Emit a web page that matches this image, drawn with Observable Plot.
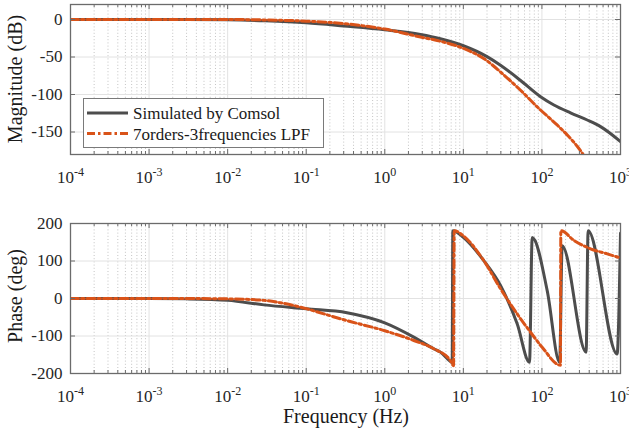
<!DOCTYPE html>
<html><head><meta charset="utf-8">
<script src="https://cdn.jsdelivr.net/npm/d3@7"></script>
<script src="https://cdn.jsdelivr.net/npm/@observablehq/plot@0.6"></script>
<style>
body{margin:0;background:#fff;}
#fig{position:relative;width:629px;height:434px;font-family:'Liberation Serif','Times New Roman',serif;}
#fig svg{display:block;}
#legend{position:absolute;left:83px;top:98px;}
</style></head><body><div id="fig"></div>
<script>
// ---- tick values / labels ----
const xTicks = [1e-4, 1e-3, 1e-2, 1e-1, 1, 10, 100, 1000];
const magTicks = [-150, -100, -50, 0];
const phaseTicks = [-200, -100, 0, 100, 200];
const seriesNames = ["Simulated by Comsol", "7orders-3frequencies LPF"];
const seriesColors = ["#4d4d4d", "#D95319"];
const xLabel = "Frequency (Hz)";
const magLabel = "Magnitude (dB)";
const phaseLabel = "Phase (deg)";

// ---- magnitude (dB) ----
const magFreqComsol = [1e-4, 1e-3, 3e-3, 0.01, 0.03, 0.1, 0.3, 1, 2.85, 5.1, 10, 20, 29.7, 53, 96, 142, 231, 377, 557, 1000];
const magComsol     = [0, 0, 0, -0.4, -1.8, -4.5, -8.7, -13.8, -20, -25.6, -35, -49.5, -61, -81, -103, -114, -124.5, -134, -142.8, -162.7];
const magFreqLPF = [1e-4, 1e-3, 0.01, 0.03, 0.1, 0.3, 1, 2.85, 5.1, 10, 20, 29.7, 53, 96, 156, 209, 281, 335];
const magLPF     = [0, 0, 0, -0.6, -2.2, -5.5, -12.8, -23.4, -29, -38.5, -55, -70, -94, -120.7, -140.6, -153.8, -169, -180];

// ---- phase (deg) ----
const phFreqComsol = [1e-4, 1e-3, 3e-3, 0.01, 0.029, 0.1, 0.33, 1, 2.34, 4.2, 5.1, 6.86, 7.2, 7.35, 10, 18.2, 29.7, 48.4, 69.5, 75.2, 116.7, 168, 181, 365, 387, 905, 1000];
const phComsol     = [0, 0, -1, -5, -17, -27.6, -38, -65, -103, -134, -143, -168, -171, 181, 163, 101, 35, -67.6, -170, 163, 21, -170, 141, -143, 181, -148, 174];
const phFreqLPF = [1e-4, 1e-3, 3e-3, 0.01, 0.029, 0.047, 0.1, 0.125, 0.33, 1, 2.34, 4.2, 6.86, 7.5, 7.65, 10, 18.2, 29.7, 48.4, 71.6, 100.7, 172, 174, 255, 415, 678, 1000];
const phLPF     = [0, 0, 0, -1, -5, -11.5, -27, -33, -59, -86, -112, -134, -166, -179, 181, 167, 101, 26, -41, -90, -130, -178, 181, 155, 132.5, 119, 108];

const toRows = (fs, vs, s) => fs.map((f, i) => ({f, v: vs[i], s}));
const magData = [toRows(magFreqComsol, magComsol, 0), toRows(magFreqLPF, magLPF, 1)];
const phData = [toRows(phFreqComsol, phComsol, 0), toRows(phFreqLPF, phLPF, 1)];

const minorTicks = [];
for (let e = -4; e < 3; e++) for (let m = 2; m <= 9; m++) minorTicks.push(m * Math.pow(10, e));

const FONT = "'Liberation Serif','Times New Roman',serif";
const frameColor = "#6b6b6b";

function panel({height, marginTop, marginBottom, domain, yTicks, data}) {
  const ph = height - marginTop - marginBottom;
  const pw = 629 - 70 - 9;
  const svg = Plot.plot({
    width: 629, height, marginLeft: 70, marginRight: 9, marginTop, marginBottom,
    style: {fontFamily: FONT, fontSize: "17px", color: "#262626", background: "white", overflow: "visible"},
    x: {type: "log", domain: [1e-4, 1e3]},
    y: {domain},
    marks: [
      Plot.gridX(minorTicks, {stroke: "#b5b5b5", strokeOpacity: 1, strokeWidth: 0.8, strokeDasharray: "1,2.2"}),
      Plot.gridX(xTicks, {stroke: "#e2e2e2", strokeOpacity: 1, strokeWidth: 1}),
      Plot.gridY(yTicks, {stroke: "#e2e2e2", strokeOpacity: 1, strokeWidth: 1}),
      Plot.line(data[0], {x: "f", y: "v", stroke: seriesColors[0], strokeWidth: 3, curve: "monotone-x", clip: true}),
      Plot.line(data[1], {x: "f", y: "v", stroke: seriesColors[1], strokeWidth: 3, strokeDasharray: "8,3,2.5,3", curve: "monotone-x", clip: true}),
      Plot.frame({stroke: frameColor, strokeWidth: 1.3}),
      Plot.tickX(xTicks, {x: d => d, insetTop: ph - 5, stroke: frameColor}),
      Plot.tickX(xTicks, {x: d => d, insetBottom: ph - 5, stroke: frameColor}),
      Plot.tickX(minorTicks, {x: d => d, insetTop: ph - 3, stroke: frameColor}),
      Plot.tickX(minorTicks, {x: d => d, insetBottom: ph - 3, stroke: frameColor}),
      Plot.tickY(yTicks, {y: d => d, insetRight: pw - 5, stroke: frameColor}),
      Plot.tickY(yTicks, {y: d => d, insetLeft: pw - 5, stroke: frameColor}),
      Plot.axisX(xTicks, {tickSize: 0, tickPadding: 16, label: null, tickFormat: d => String(Math.round(Math.log10(d)))}),
      Plot.axisY(yTicks, {tickSize: 0, tickPadding: 8, label: null, tickFormat: d => String(d)})
    ]
  });
  // superscript exponents
  svg.querySelectorAll('g[aria-label="x-axis tick label"] text').forEach(t => {
    const exp = t.textContent;
    t.textContent = "";
    const NS = "http://www.w3.org/2000/svg";
    const b = document.createElementNS(NS, "tspan"); b.textContent = "10"; t.appendChild(b);
    const s = document.createElementNS(NS, "tspan"); s.textContent = exp;
    s.setAttribute("dy", "-7"); s.setAttribute("font-size", "12"); t.appendChild(s);
  });
  return svg;
}

const fig = document.getElementById("fig");
const topPanel = panel({height: 195, marginTop: 4, marginBottom: 41, domain: [-180, 20], yTicks: magTicks, data: magData});
const botPanel = panel({height: 239, marginTop: 28, marginBottom: 61, domain: [-200, 200], yTicks: phaseTicks, data: phData});
fig.appendChild(topPanel);
fig.appendChild(botPanel);

function addText(svg, txt, x, y, rotate) {
  d3.select(svg).append("text")
    .attr("transform", `translate(${x},${y})` + (rotate ? " rotate(-90)" : ""))
    .attr("text-anchor", "middle").attr("font-size", 20).attr("fill", "#1a1a1a")
    .attr("font-family", FONT).text(txt);
}
addText(topPanel, magLabel, 22, 79, true);
addText(botPanel, phaseLabel, 22, 101, true);
addText(botPanel, xLabel, 346, 228, false);

// legend
const lg = d3.select(fig).append("svg").attr("id", "legend").attr("width", 241).attr("height", 50);
lg.append("rect").attr("x", 0.5).attr("y", 0.5).attr("width", 240).attr("height", 49).attr("fill", "white").attr("stroke", "#7a7a7a").attr("stroke-width", 1);
seriesNames.forEach((n, i) => {
  const cy = 15 + i * 20.5;
  lg.append("line").attr("x1", 4).attr("x2", 45).attr("y1", cy).attr("y2", cy)
    .attr("stroke", seriesColors[i]).attr("stroke-width", 3)
    .attr("stroke-dasharray", i === 1 ? "8,3,2.5,3" : null);
  lg.append("text").attr("x", 50).attr("y", cy + 6).attr("font-size", 17).attr("font-family", FONT).attr("fill", "#1a1a1a").text(n);
});
</script></body></html>
